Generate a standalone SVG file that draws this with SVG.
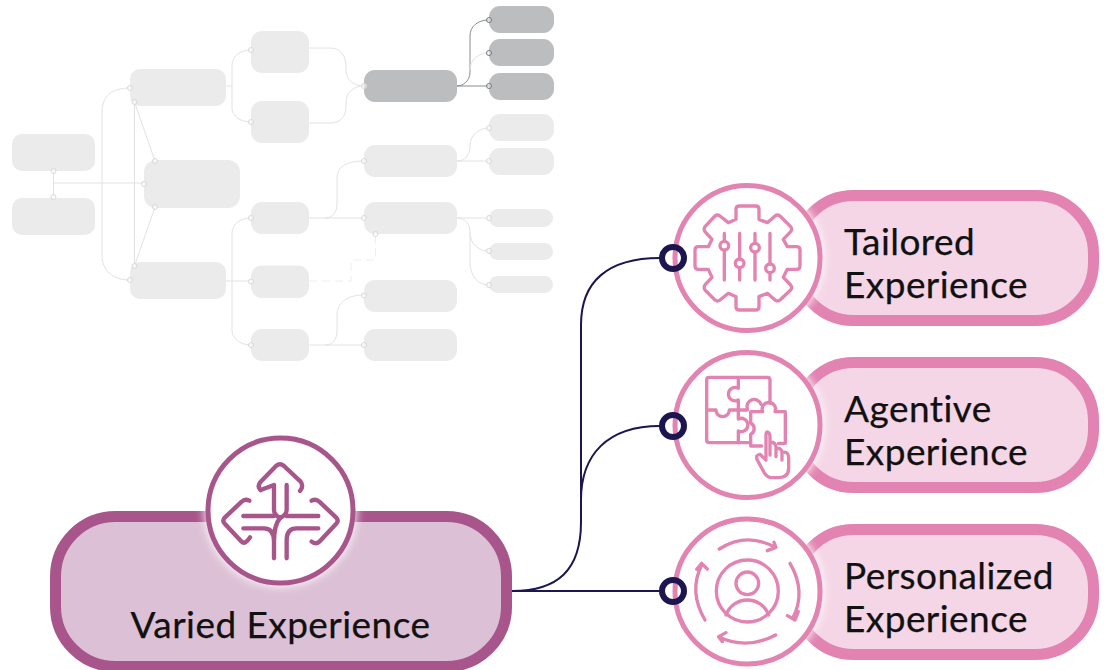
<svg xmlns="http://www.w3.org/2000/svg" width="1104" height="670" viewBox="0 0 1104 670">
<defs>
<style>
.g{fill:#ebebeb}.d{fill:#bcbdbf}
.l{fill:none;stroke:#e2e2e2;stroke-width:1}
.dash{fill:none;stroke:#eeeeee;stroke-width:1;stroke-dasharray:8 5}
.lk{fill:none;stroke:#8a8b8d;stroke-width:1}
.p{fill:#fff;fill-opacity:.5;stroke:#d8d8d8;stroke-width:1}
.pk{fill:#fff;fill-opacity:.4;stroke:#77787a;stroke-width:1}
.box{fill:#f5d6e6;stroke:#e283b1;stroke-width:11}
.circ{fill:#fff;stroke:#e283b1;stroke-width:5}
.ic{fill:none;stroke:#e283b1;stroke-width:10;stroke-linecap:round;stroke-linejoin:round}
.ip{fill:none;stroke:#a8558b;stroke-width:13;stroke-linejoin:round;stroke-linecap:round}
.t{font-family:"Lato","Noto Sans",sans-serif;font-size:37px;letter-spacing:.45px;fill:#111;stroke:#111;stroke-width:.25}
.con{fill:none;stroke:#1c1650;stroke-width:2}
.ring{fill:none;stroke:#1c1650;stroke-width:6}
</style>
<filter id="glow" x="-30%" y="-30%" width="160%" height="160%"><feGaussianBlur stdDeviation="5"/></filter>
</defs>

<g id="map-connectors">
<path class="l" d="M53.500 171V197M54 183H144"/>
<path class="l" d="M130 88C112 88 102 96 102 112V255C102 270 112 280 130 280"/>
<path class="l" d="M134.500 102V266M134.500 102L155 161M155 207L134.500 266"/>
<path class="l" d="M226 86H232M251 50C240 50 232 56 232 66V108C232 116 240 122 251 122"/>
<path class="l" d="M226 281H251M251 218C240 218 232 224 232 234V330C232 338 240 345 251 345"/>
<path class="l" d="M309 48H330C341 48 346 56 346 66V70C346 80 354 86 364 86C354 86 346 92 346 102V106C346 116 341 123 330 123H309"/>
<path class="lk" d="M457 86H489M457 86C462 86 470 82 470 72V36C470 26 478 20 489 20"/>
<path class="l" d="M470 70C470 60 478 53 489 53"/>
<path class="l" d="M309 218H364M325 218C333 218 337 212 337 204V178C337 168 345 161 364 161"/>
<path class="l" d="M457 161H489M457 161C465 161 470 155 470 146C470 136 478 128 489 128"/>
<path class="l" d="M457 218H489M457 218C465 218 470 224 470 232V262C470 276 478 285 489 285M470 232C470 244 478 251 489 251"/>
<path class="dash" d="M309 281H351V260H375.500V234"/>
<path class="l" d="M309 345H364M325 345C333 345 337 339 337 331V316C337 304 345 295 364 295"/>
</g>

<g id="map-nodes">
<g id="m1"><rect class="g" x="12" y="134" width="83" height="37" rx="10"/><circle class="p" cx="53.500" cy="171" r="2.500"/></g>
<g id="m2"><rect class="g" x="12" y="198" width="83" height="37" rx="10"/><circle class="p" cx="53.500" cy="197" r="2.500"/></g>
<g id="m3"><rect class="g" x="130" y="69" width="96" height="37" rx="10"/><circle class="p" cx="130" cy="88" r="2.500"/><circle class="p" cx="134.500" cy="102" r="2.500"/></g>
<g id="m4"><rect class="g" x="144" y="160" width="96" height="48" rx="12"/><circle class="p" cx="144" cy="184" r="2.500"/><circle class="p" cx="155" cy="161" r="2.500"/><circle class="p" cx="155" cy="207" r="2.500"/></g>
<g id="m5"><rect class="g" x="130" y="262" width="96" height="37" rx="10"/><circle class="p" cx="130" cy="280" r="2.500"/><circle class="p" cx="134.500" cy="266" r="2.500"/></g>
<g id="m6"><rect class="g" x="251" y="31" width="58" height="42" rx="11"/><circle class="p" cx="251" cy="50" r="2.500"/></g>
<g id="m7"><rect class="g" x="251" y="101" width="58" height="42" rx="11"/><circle class="p" cx="251" cy="122" r="2.500"/></g>
<g id="m8"><rect class="g" x="251" y="202" width="58" height="32" rx="11"/><circle class="p" cx="251" cy="218" r="2.500"/></g>
<g id="m9"><rect class="g" x="251" y="265.500" width="58" height="32.500" rx="11"/><circle class="p" cx="251" cy="281.500" r="2.500"/></g>
<g id="m10"><rect class="g" x="251" y="329" width="58" height="32" rx="11"/><circle class="p" cx="251" cy="345" r="2.500"/></g>
<g id="m11"><rect class="d" x="364" y="70" width="93" height="32" rx="11"/><circle class="p" cx="364" cy="86" r="2.500"/></g>
<g id="m12"><rect class="g" x="364" y="145" width="93" height="32" rx="11"/><circle class="p" cx="364" cy="161" r="2.500"/></g>
<g id="m13"><rect class="g" x="364" y="202" width="93" height="32" rx="11"/><circle class="p" cx="364" cy="218" r="2.500"/><circle class="p" cx="375.500" cy="234" r="2.500"/></g>
<g id="m14"><rect class="g" x="364" y="280" width="93" height="32" rx="11"/><circle class="p" cx="364" cy="295.500" r="2.500"/></g>
<g id="m15"><rect class="g" x="364" y="329" width="93" height="32" rx="11"/><circle class="p" cx="364" cy="345" r="2.500"/></g>
<g id="m16"><rect class="d" x="489" y="6" width="65" height="27" rx="11"/><circle class="pk" cx="489" cy="20" r="2.500"/></g>
<g id="m17"><rect class="d" x="489" y="39" width="65" height="27" rx="11"/><circle class="pk" cx="489" cy="53" r="2.500"/></g>
<g id="m18"><rect class="d" x="489" y="73" width="65" height="27" rx="11"/><circle class="pk" cx="489" cy="86" r="2.500"/></g>
<g id="m19"><rect class="g" x="489" y="114" width="65" height="27" rx="11"/><circle class="p" cx="489" cy="128" r="2.500"/></g>
<g id="m20"><rect class="g" x="489" y="148" width="65" height="27" rx="11"/><circle class="p" cx="489" cy="161" r="2.500"/></g>
<g id="m21"><rect class="g" x="489" y="209" width="64" height="18" rx="9"/><circle class="p" cx="489" cy="218" r="2.500"/></g>
<g id="m22"><rect class="g" x="489" y="243" width="64" height="17" rx="8.500"/><circle class="p" cx="489" cy="251" r="2.500"/></g>
<g id="m23"><rect class="g" x="489" y="276" width="64" height="17" rx="8.500"/><circle class="p" cx="489" cy="285" r="2.500"/></g>
</g>

<g id="connectors">
<path class="con" d="M512 591C558 591 581 570 581 522V325C581 282 607 258 660 258"/>
<path class="con" d="M581 500C581 455 607 426 660 426"/>
<path class="con" d="M512 591H660"/>
</g>

<g id="varied">
<rect x="55.500" y="516.500" width="451" height="150" rx="60" fill="#dcc0d5" stroke="#a8558b" stroke-width="11"/>
<circle cx="280.500" cy="510.500" r="76" fill="#fff" opacity=".9" filter="url(#glow)"/>
<circle cx="280.500" cy="510.500" r="72.500" fill="#fff" stroke="#a8558b" stroke-width="5"/>
<g transform="translate(190 430) scale(.3333)" class="ip">
<path d="M212 180Q200 170 212 155L258 108Q270 98 282 108L332 155Q342 170 330 183"/>
<path d="M212 180L252 165V240Q252 254 270 264Q290 254 290 240V165"/>
<path d="M160 258H252M385 258H290"/>
<path d="M160 295H222Q252 295 252 335V385M385 295H320Q290 295 290 330V385M252 335Q252 285 270 264"/>
<path d="M178 212Q165 205 155 215L105 262Q95 272 105 282L155 335Q165 345 180 322"/>
<path d="M365 212Q378 205 388 215L438 262Q448 272 438 282L388 335Q378 345 365 335"/>
</g>
<text class="t" x="280.500" y="638" text-anchor="middle">Varied Experience</text>
</g>

<g id="tailored">
<rect class="box" x="795.500" y="195.500" width="298" height="125" rx="58"/>
<circle cx="747.500" cy="258" r="76" fill="#fff" filter="url(#glow)"/>
<circle class="circ" cx="747.500" cy="258" r="72.500"/>
<g transform="translate(660 180) scale(.3333)" class="ic">
<path d="M228 118V88Q228 78 238 78H287Q297 78 297 88V118L322 128L345 108Q352 102 360 108L392 140Q398 148 392 155L370 178L382 200H410Q420 200 420 210V258Q420 268 410 268H382L370 292L392 315Q398 322 392 330L360 360Q352 366 345 360L322 340L297 350V380Q297 390 287 390H238Q228 390 228 380V350L205 340L180 360Q172 366 165 360L135 330Q130 322 135 315L156 292L145 268H115Q105 268 105 258V210Q105 200 115 200H145L156 178L135 155Q130 148 135 140L165 108Q172 102 180 108L205 128Z"/>
<path d="M193 160V300M239 160V300M285 160V300M330 160V300"/>
<circle cx="193" cy="197" r="13" fill="#fff"/><circle cx="239" cy="250" r="13" fill="#fff"/><circle cx="285" cy="203" r="13" fill="#fff"/><circle cx="330" cy="265" r="13" fill="#fff"/>
</g>
<text class="t" x="844" y="255">Tailored</text>
<text class="t" x="844" y="298">Experience</text>
<circle class="ring" cx="673" cy="258" r="11"/>
</g>

<g id="agentive">
<rect class="box" x="795.500" y="362.500" width="298" height="125" rx="58"/>
<circle cx="747.500" cy="425" r="76" fill="#fff" filter="url(#glow)"/>
<circle class="circ" cx="747.500" cy="425" r="72.500"/>
<g transform="translate(660 345) scale(.3333)" class="ic">
<path d="M148 97H322Q330 97 330 105V175M148 97Q140 97 140 105V285Q140 293 148 293H265"/>
<path d="M235 97V130A20 20 0 1 0 235 165V195"/>
<path d="M140 195H168A20 20 0 1 0 208 195H262"/>
<path d="M235 195V222A20 20 0 1 1 235 258V293"/>
<path d="M262 192A20 20 0 0 1 303 178"/>
<path d="M272 200H308A20 20 0 1 1 345 200H376V295H355M272 200V234A19 19 0 0 1 272 268V303H305"/>
<path d="M318 340V270Q318 258 325 262Q330 265 330 275V330M330 300V292Q345 290 348 305V335M348 310Q365 308 366 322V345M366 322Q386 318 386 338V370Q386 398 355 398H335Q322 398 312 382L292 345Q285 330 300 328L318 345"/>
</g>
<text class="t" x="844" y="422">Agentive</text>
<text class="t" x="844" y="465">Experience</text>
<circle class="ring" cx="673" cy="426" r="11"/>
</g>

<g id="personalized">
<rect class="box" x="795.500" y="529.500" width="298" height="125" rx="58"/>
<circle cx="747.500" cy="591.500" r="76" fill="#fff" filter="url(#glow)"/>
<circle class="circ" cx="747.500" cy="591.500" r="72.500"/>
<g transform="translate(660 510) scale(.3333)" class="ic">
<circle cx="262" cy="243" r="93"/>
<circle cx="262" cy="220" r="34"/>
<path d="M198 315A68 68 0 0 1 326 315"/>
<path d="M178 117Q260 65 345 112M322 122L348 112L342 97"/>
<path d="M390 160Q440 245 398 325M382 317L405 330L415 305"/>
<path d="M347 375Q262 420 178 382M198 368L176 380L187 395"/>
<path d="M135 330Q85 245 125 165M110 178L125 160L142 177"/>
</g>
<text class="t" x="844" y="589">Personalized</text>
<text class="t" x="844" y="632">Experience</text>
<circle class="ring" cx="673" cy="591" r="11"/>
</g>
</svg>
